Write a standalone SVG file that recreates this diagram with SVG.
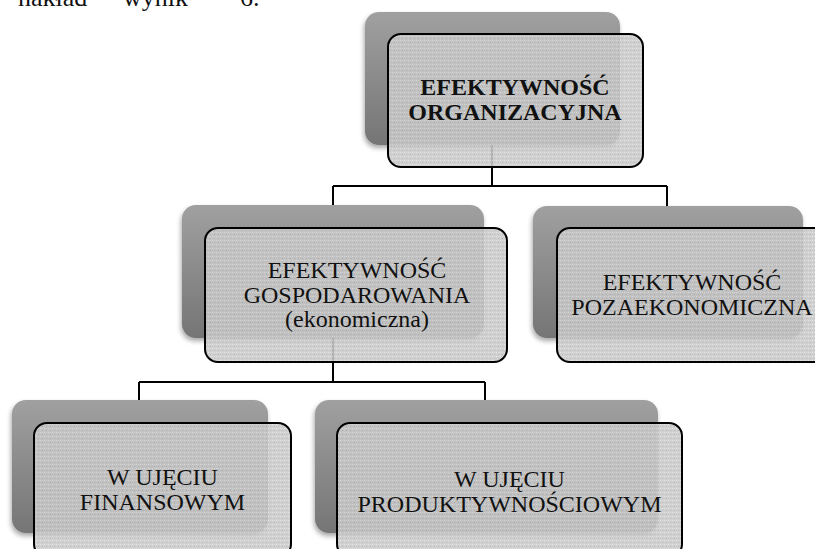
<svg xmlns="http://www.w3.org/2000/svg" width="815" height="549" viewBox="0 0 815 549">
  <defs>
    <linearGradient id="backGrad" x1="0" y1="0" x2="0" y2="1">
      <stop offset="0" stop-color="#a0a0a0"/>
      <stop offset="1" stop-color="#757575"/>
    </linearGradient>
    <pattern id="dots" width="4" height="4" patternUnits="userSpaceOnUse">
      <rect width="4" height="4" fill="#c9c9c9"/>
      <rect x="0" y="0" width="1" height="1" fill="#e2e2e2"/>
      <rect x="2" y="2" width="1" height="1" fill="#b2b2b2"/>
      <rect x="2" y="0" width="1" height="1" fill="#d8d8d8"/>
    </pattern>
    <filter id="shadow" x="-10%" y="-10%" width="120%" height="130%">
      <feGaussianBlur in="SourceAlpha" stdDeviation="2.5"/>
      <feOffset dx="-1" dy="3" result="b"/>
      <feComponentTransfer><feFuncA type="linear" slope="0.35"/></feComponentTransfer>
      <feMerge><feMergeNode/><feMergeNode in="SourceGraphic"/></feMerge>
    </filter>
  </defs>
  <style>
    .back { fill: url(#backGrad); filter: url(#shadow); }
    .front { fill: url(#dots); fill-opacity: 0.88; stroke: #000; stroke-width: 2; }
    .conn { fill: none; stroke: #000; stroke-width: 2; }
    .lbl { font-family: "Liberation Serif", "Times New Roman", serif; font-size: 24px; fill: #111; text-anchor: middle; }
    .bold { font-weight: bold; }
    .page { font-family: "Liberation Serif", "Times New Roman", serif; font-size: 26px; fill: #111; }
  </style>

  <g id="page-text-fragment">
    <text class="page" x="18" y="6">nakład</text>
    <text class="page" x="123" y="6">wynik</text>
    <text class="page" x="240" y="6">6.</text>
  </g>

  <g id="connectors">
    <path class="conn" d="M492,145 V186 M333,186 H667 M333,186 V206 M667,186 V207"/>
    <path class="conn" d="M333,338 V382 M139,382 H485 M139,382 V400 M485,382 V400"/>
  </g>

  <g id="node-organizacyjna">
    <rect class="back" x="365" y="12" width="255" height="133" rx="14"/>
    <rect class="front" x="388" y="34" width="255" height="133" rx="13"/>
    <text class="lbl bold" x="515" y="95">EFEKTYWNOŚĆ</text>
    <text class="lbl bold" x="515" y="120">ORGANIZACYJNA</text>
  </g>

  <g id="node-gospodarowania">
    <rect class="back" x="182" y="205" width="302" height="133" rx="14"/>
    <rect class="front" x="205" y="228" width="302" height="134" rx="13"/>
    <text class="lbl" x="357" y="278">EFEKTYWNOŚĆ</text>
    <text class="lbl" x="357" y="302.5">GOSPODAROWANIA</text>
    <text class="lbl" x="357" y="327">(ekonomiczna)</text>
  </g>

  <g id="node-pozaekonomiczna">
    <rect class="back" x="533" y="206" width="270" height="132" rx="14"/>
    <rect class="front" x="557" y="228" width="270" height="134" rx="13"/>
    <text class="lbl" x="692" y="290">EFEKTYWNOŚĆ</text>
    <text class="lbl" x="692" y="315">POZAEKONOMICZNA</text>
  </g>

  <g id="node-finansowym">
    <rect class="back" x="12" y="400" width="256" height="133" rx="14"/>
    <rect class="front" x="34" y="423" width="257" height="134" rx="13"/>
    <text class="lbl" x="162.5" y="485">W UJĘCIU</text>
    <text class="lbl" x="162.5" y="510">FINANSOWYM</text>
  </g>

  <g id="node-produktywnosciowym">
    <rect class="back" x="315" y="400" width="343" height="133" rx="14"/>
    <rect class="front" x="337" y="423" width="345" height="134" rx="13"/>
    <text class="lbl" x="509.5" y="487">W UJĘCIU</text>
    <text class="lbl" x="509.5" y="512">PRODUKTYWNOŚCIOWYM</text>
  </g>
</svg>
